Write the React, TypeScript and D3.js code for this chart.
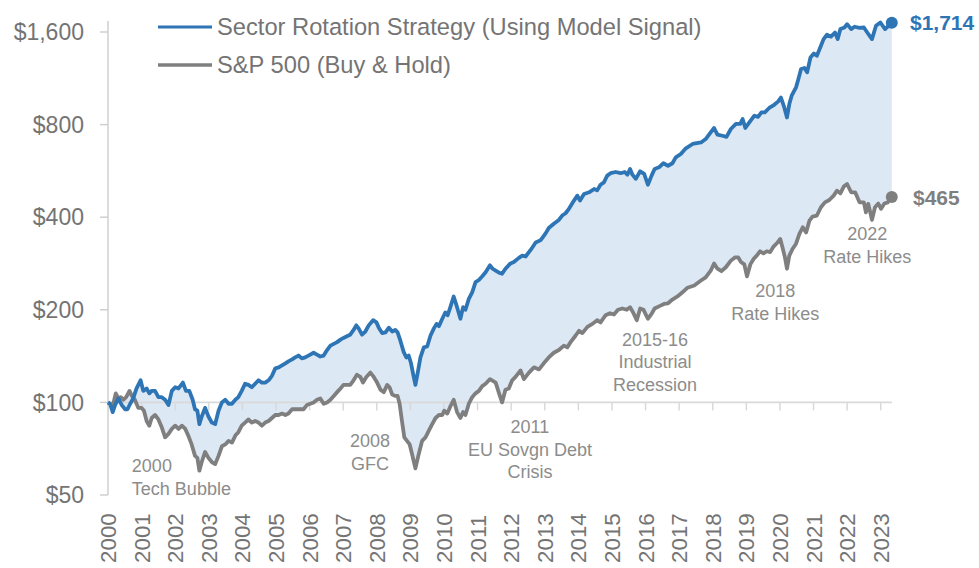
import React from "react";
import * as d3 from "d3";

type Pt = [number, number];

const strategy: Pt[] = [
  [2000.0, 100], [2000.06, 99], [2000.14, 93], [2000.21, 98], [2000.31, 103], [2000.41, 98], [2000.51, 95],
  [2000.58, 95], [2000.66, 99], [2000.75, 103], [2000.85, 111], [2000.97, 118], [2001.05, 109], [2001.15, 111],
  [2001.23, 107], [2001.3, 109], [2001.4, 109], [2001.5, 104], [2001.6, 104], [2001.7, 102], [2001.8, 98],
  [2001.9, 109], [2002.0, 112], [2002.1, 111], [2002.23, 116], [2002.32, 109], [2002.42, 109], [2002.52, 102],
  [2002.59, 95], [2002.66, 94], [2002.72, 85], [2002.79, 90], [2002.89, 96], [2002.99, 90], [2003.09, 86],
  [2003.19, 85], [2003.29, 94], [2003.39, 100], [2003.49, 102], [2003.59, 99], [2003.69, 99], [2003.79, 102],
  [2003.88, 104], [2003.98, 109], [2004.08, 115], [2004.18, 114], [2004.28, 112], [2004.38, 115], [2004.48, 118],
  [2004.58, 116], [2004.68, 116], [2004.78, 118], [2004.88, 122], [2004.98, 129], [2005.08, 130], [2005.18, 132],
  [2005.28, 134], [2005.37, 136], [2005.48, 138], [2005.57, 140], [2005.67, 142], [2005.77, 139], [2005.87, 140],
  [2006.02, 143], [2006.12, 145], [2006.22, 143], [2006.32, 141], [2006.42, 142], [2006.52, 148], [2006.62, 153],
  [2006.72, 155], [2006.82, 157], [2006.92, 160], [2007.01, 162], [2007.11, 164], [2007.21, 166], [2007.31, 172],
  [2007.39, 178], [2007.46, 174], [2007.56, 166], [2007.66, 170], [2007.76, 178], [2007.89, 185], [2007.99, 182],
  [2008.06, 175], [2008.16, 168], [2008.26, 169], [2008.36, 175], [2008.46, 170], [2008.55, 172], [2008.62, 169],
  [2008.7, 159], [2008.8, 146], [2008.88, 140], [2008.95, 142], [2009.02, 134], [2009.08, 124], [2009.15, 114],
  [2009.22, 125], [2009.3, 140], [2009.4, 151], [2009.5, 152], [2009.6, 165], [2009.7, 174], [2009.78, 180],
  [2009.85, 177], [2009.95, 187], [2010.04, 196], [2010.11, 192], [2010.19, 204], [2010.29, 221], [2010.39, 204],
  [2010.49, 187], [2010.57, 204], [2010.64, 200], [2010.74, 217], [2010.84, 228], [2010.94, 246], [2011.04, 250],
  [2011.14, 257], [2011.24, 265], [2011.37, 279], [2011.45, 272], [2011.54, 268], [2011.64, 264], [2011.73, 262],
  [2011.83, 272], [2011.98, 283], [2012.08, 286], [2012.23, 295], [2012.33, 300], [2012.43, 298], [2012.58, 313],
  [2012.73, 331], [2012.88, 337], [2013.03, 355], [2013.12, 369], [2013.27, 381], [2013.42, 392], [2013.52, 405],
  [2013.62, 412], [2013.72, 426], [2013.87, 453], [2013.97, 470], [2014.05, 453], [2014.17, 476], [2014.32, 482],
  [2014.47, 494], [2014.56, 489], [2014.66, 510], [2014.76, 519], [2014.86, 546], [2014.96, 556], [2015.11, 561],
  [2015.26, 556], [2015.38, 561], [2015.46, 550], [2015.54, 574], [2015.61, 550], [2015.71, 533], [2015.84, 564],
  [2015.96, 553], [2016.07, 510], [2016.18, 546], [2016.27, 574], [2016.4, 581], [2016.53, 599], [2016.67, 588],
  [2016.8, 599], [2016.9, 626], [2017.05, 642], [2017.2, 670], [2017.4, 692], [2017.65, 700], [2017.79, 718],
  [2017.94, 755], [2018.04, 780], [2018.14, 742], [2018.29, 736], [2018.41, 730], [2018.54, 774], [2018.69, 804],
  [2018.82, 804], [2018.89, 834], [2018.97, 780], [2019.09, 813], [2019.24, 855], [2019.35, 848], [2019.45, 877],
  [2019.55, 877], [2019.68, 906], [2019.83, 928], [2019.95, 952], [2020.03, 980], [2020.13, 910], [2020.21, 844],
  [2020.28, 933], [2020.35, 993], [2020.48, 1057], [2020.55, 1125], [2020.63, 1213], [2020.73, 1222], [2020.81, 1183],
  [2020.91, 1322], [2021.01, 1362], [2021.1, 1339], [2021.2, 1425], [2021.3, 1517], [2021.4, 1567], [2021.52, 1545],
  [2021.64, 1594], [2021.72, 1517], [2021.8, 1635], [2021.92, 1655], [2022.0, 1697], [2022.12, 1635], [2022.22, 1664],
  [2022.37, 1650], [2022.5, 1655], [2022.6, 1594], [2022.74, 1517], [2022.86, 1676], [2022.99, 1718], [2023.13, 1635],
  [2023.23, 1676], [2023.33, 1714],
];

const sp500: Pt[] = [
  [2000.0, 100], [2000.06, 99], [2000.14, 97], [2000.23, 107], [2000.31, 103], [2000.38, 104], [2000.46, 102],
  [2000.54, 104], [2000.64, 109], [2000.71, 105], [2000.8, 102], [2000.9, 96], [2001.0, 96], [2001.07, 94],
  [2001.15, 87], [2001.23, 84], [2001.3, 89], [2001.4, 91], [2001.5, 88], [2001.6, 83], [2001.7, 77], [2001.8, 79],
  [2001.9, 82], [2002.0, 84], [2002.1, 82], [2002.2, 84], [2002.3, 82], [2002.39, 78], [2002.49, 73], [2002.59, 67],
  [2002.66, 66], [2002.72, 60], [2002.79, 64], [2002.89, 69], [2002.99, 66], [2003.09, 64], [2003.19, 63],
  [2003.29, 67], [2003.39, 72], [2003.49, 73], [2003.59, 75], [2003.69, 74], [2003.79, 78], [2003.88, 80],
  [2003.98, 84], [2004.08, 86], [2004.18, 88], [2004.28, 86], [2004.38, 87], [2004.48, 86], [2004.58, 84],
  [2004.68, 86], [2004.78, 87], [2004.88, 89], [2004.98, 91], [2005.08, 91], [2005.18, 92], [2005.28, 91],
  [2005.37, 92], [2005.48, 95], [2005.57, 95], [2005.72, 95], [2005.82, 95], [2005.92, 98], [2006.02, 99],
  [2006.12, 100], [2006.22, 102], [2006.32, 103], [2006.42, 99], [2006.52, 100], [2006.62, 102], [2006.72, 105],
  [2006.82, 108], [2006.92, 111], [2007.01, 114], [2007.11, 114], [2007.21, 114], [2007.31, 118], [2007.41, 123],
  [2007.51, 121], [2007.59, 116], [2007.69, 121], [2007.81, 125], [2007.91, 121], [2008.01, 116], [2008.11, 110],
  [2008.21, 108], [2008.31, 114], [2008.38, 112], [2008.46, 106], [2008.55, 105], [2008.62, 105], [2008.68, 99],
  [2008.75, 87], [2008.82, 77], [2008.9, 75], [2008.98, 73], [2009.05, 68], [2009.15, 61], [2009.25, 68],
  [2009.35, 75], [2009.45, 77], [2009.55, 81], [2009.65, 85], [2009.75, 89], [2009.85, 91], [2009.95, 91],
  [2010.01, 94], [2010.1, 92], [2010.19, 97], [2010.29, 102], [2010.39, 93], [2010.49, 89], [2010.57, 93],
  [2010.64, 91], [2010.74, 99], [2010.84, 104], [2010.94, 107], [2011.04, 109], [2011.14, 113], [2011.24, 115],
  [2011.37, 119], [2011.54, 116], [2011.64, 107], [2011.73, 100], [2011.83, 110], [2011.93, 111], [2012.03, 118],
  [2012.13, 121], [2012.28, 127], [2012.38, 119], [2012.53, 125], [2012.68, 130], [2012.83, 128], [2012.97, 134],
  [2013.12, 140], [2013.27, 145], [2013.42, 148], [2013.57, 153], [2013.67, 151], [2013.77, 157], [2013.92, 165],
  [2014.02, 171], [2014.12, 168], [2014.27, 176], [2014.42, 180], [2014.56, 185], [2014.66, 182], [2014.81, 192],
  [2014.94, 195], [2015.06, 193], [2015.18, 200], [2015.31, 202], [2015.44, 200], [2015.54, 204], [2015.64, 195],
  [2015.74, 185], [2015.84, 202], [2015.94, 200], [2016.07, 187], [2016.18, 194], [2016.27, 202], [2016.43, 206],
  [2016.55, 209], [2016.67, 210], [2016.8, 216], [2016.95, 221], [2017.1, 228], [2017.25, 236], [2017.45, 240],
  [2017.65, 249], [2017.79, 255], [2017.94, 268], [2018.04, 283], [2018.14, 272], [2018.26, 267], [2018.39, 275],
  [2018.54, 289], [2018.66, 296], [2018.76, 296], [2018.84, 286], [2018.94, 281], [2019.02, 257], [2019.12, 281],
  [2019.22, 293], [2019.31, 300], [2019.41, 310], [2019.51, 305], [2019.61, 310], [2019.71, 308], [2019.81, 321],
  [2019.93, 331], [2020.01, 340], [2020.08, 318], [2020.15, 296], [2020.21, 272], [2020.28, 300], [2020.38, 316],
  [2020.48, 328], [2020.58, 353], [2020.68, 371], [2020.78, 357], [2020.88, 390], [2020.97, 402], [2021.1, 405],
  [2021.22, 431], [2021.34, 447], [2021.47, 455], [2021.6, 470], [2021.7, 488], [2021.8, 478], [2021.9, 503],
  [2022.0, 513], [2022.12, 482], [2022.24, 482], [2022.37, 447], [2022.5, 447], [2022.56, 415], [2022.63, 442],
  [2022.74, 392], [2022.83, 431], [2022.93, 443], [2023.01, 426], [2023.11, 443], [2023.21, 447], [2023.33, 465],
];

const yearTicks = [
  2000, 2001, 2002, 2003, 2004, 2005, 2006, 2007, 2008, 2009, 2010, 2011,
  2012, 2013, 2014, 2015, 2016, 2017, 2018, 2019, 2020, 2021, 2022, 2023,
];
const valueTicks = [50, 100, 200, 400, 800, 1600];
const valueTickLabels = ["$50", "$100", "$200", "$400", "$800", "$1,600"];
const seriesNames = ["Sector Rotation Strategy (Using Model Signal)", "S&P 500 (Buy & Hold)"];
const endLabels = ["$1,714", "$465"];

const annotations = [
  { t: 2000.71, v: 59.2, anchor: "start", lines: ["2000", "Tech Bubble"] },
  { t: 2007.8, v: 71.4, anchor: "middle", lines: ["2008", "GFC"] },
  { t: 2012.56, v: 79.3, anchor: "middle", lines: ["2011", "EU Sovgn Debt", "Crisis"] },
  { t: 2016.28, v: 153, anchor: "middle", lines: ["2015-16", "Industrial", "Recession"] },
  { t: 2019.86, v: 219.5, anchor: "middle", lines: ["2018", "Rate Hikes"] },
  { t: 2022.6, v: 336, anchor: "middle", lines: ["2022", "Rate Hikes"] },
];

const W = 979;
const H = 568;
const BLUE = "#2e75b6";
const GRAY = "#7f7f7f";
const FILL = "#dde8f5";
const TEXT = "#747474";
const NOTE = "#8c8c8c";
const AXIS = "#cfcfcf";
const FONT = "'Liberation Sans', Arial, Helvetica, sans-serif";

export default function App() {
  const x = d3.scaleLinear().domain([2000, 2023]).range([108, 880.7]);
  const y = d3.scaleLog().base(2).domain([50, 1600]).range([495, 32]);
  const line = d3
    .line<Pt>()
    .x((d) => x(d[0]))
    .y((d) => y(d[1]));

  const topPath = line(strategy) as string;
  const botPath = line([...sp500].reverse()) as string;
  const areaPath = topPath + "L" + botPath.slice(1) + "Z";

  const lastS = strategy[strategy.length - 1];
  const lastG = sp500[sp500.length - 1];
  const y100 = y(100);

  return (
    <svg
      width={W}
      height={H}
      style={{ position: "absolute", left: 0, top: 0, background: "#fff" }}
      fontFamily={FONT}
    >
      <path d={areaPath} fill={FILL} stroke="none" />

      {/* y axis */}
      <line x1={108} x2={108} y1={21} y2={y(50)} stroke={AXIS} strokeWidth={1.5} />
      {valueTicks.map((v, i) => (
        <g key={v}>
          <line x1={100} x2={108} y1={y(v)} y2={y(v)} stroke={AXIS} strokeWidth={1.5} />
          <text x={84} y={y(v)} dy="0.36em" textAnchor="end" fontSize={23} fill={TEXT}>
            {valueTickLabels[i]}
          </text>
        </g>
      ))}

      {/* x axis at $100 */}
      <line x1={108} x2={892} y1={y100} y2={y100} stroke="#d9d9d9" strokeWidth={1.8} />
      {yearTicks.map((yr) => (
        <g key={yr}>
          {yr > 2000 && (
            <line x1={x(yr)} x2={x(yr)} y1={y100} y2={y100 + 8} stroke="#d9d9d9" strokeWidth={1.5} />
          )}
          <text
            transform={`translate(${x(yr)},563) rotate(-90)`}
            dy="0.36em"
            textAnchor="start"
            fontSize={22.4}
            fill={TEXT}
          >
            {yr}
          </text>
        </g>
      ))}

      <path d={line(sp500) as string} fill="none" stroke={GRAY} strokeWidth={3.8} strokeLinejoin="round" />
      <path d={topPath} fill="none" stroke={BLUE} strokeWidth={3.8} strokeLinejoin="round" />

      <circle cx={x(lastS[0])} cy={y(lastS[1])} r={6} fill={BLUE} />
      <circle cx={x(lastG[0])} cy={y(lastG[1])} r={6} fill={GRAY} />
      <text x={910} y={y(lastS[1])} dy="0.36em" fontSize={21} fontWeight="bold" fill={BLUE}>
        {endLabels[0]}
      </text>
      <text x={913} y={y(lastG[1])} dy="0.36em" fontSize={21} fontWeight="bold" fill={GRAY}>
        {endLabels[1]}
      </text>

      {/* legend */}
      <line x1={158} x2={212} y1={27} y2={27} stroke={BLUE} strokeWidth={3.2} />
      <text x={217} y={35} fontSize={23.7} fill={TEXT}>
        {seriesNames[0]}
      </text>
      <line x1={158} x2={212} y1={65} y2={65} stroke={GRAY} strokeWidth={3.6} />
      <text x={217} y={73} fontSize={23.7} fill={TEXT}>
        {seriesNames[1]}
      </text>

      {/* annotations */}
      {annotations.map((a, i) => (
        <text
          key={i}
          x={x(a.t)}
          y={y(a.v)}
          fontSize={18}
          fill={NOTE}
          textAnchor={a.anchor as any}
        >
          {a.lines.map((l, j) => (
            <tspan key={j} x={x(a.t)} dy={j === 0 ? 0 : 22.5}>
              {l}
            </tspan>
          ))}
        </text>
      ))}
    </svg>
  );
}
